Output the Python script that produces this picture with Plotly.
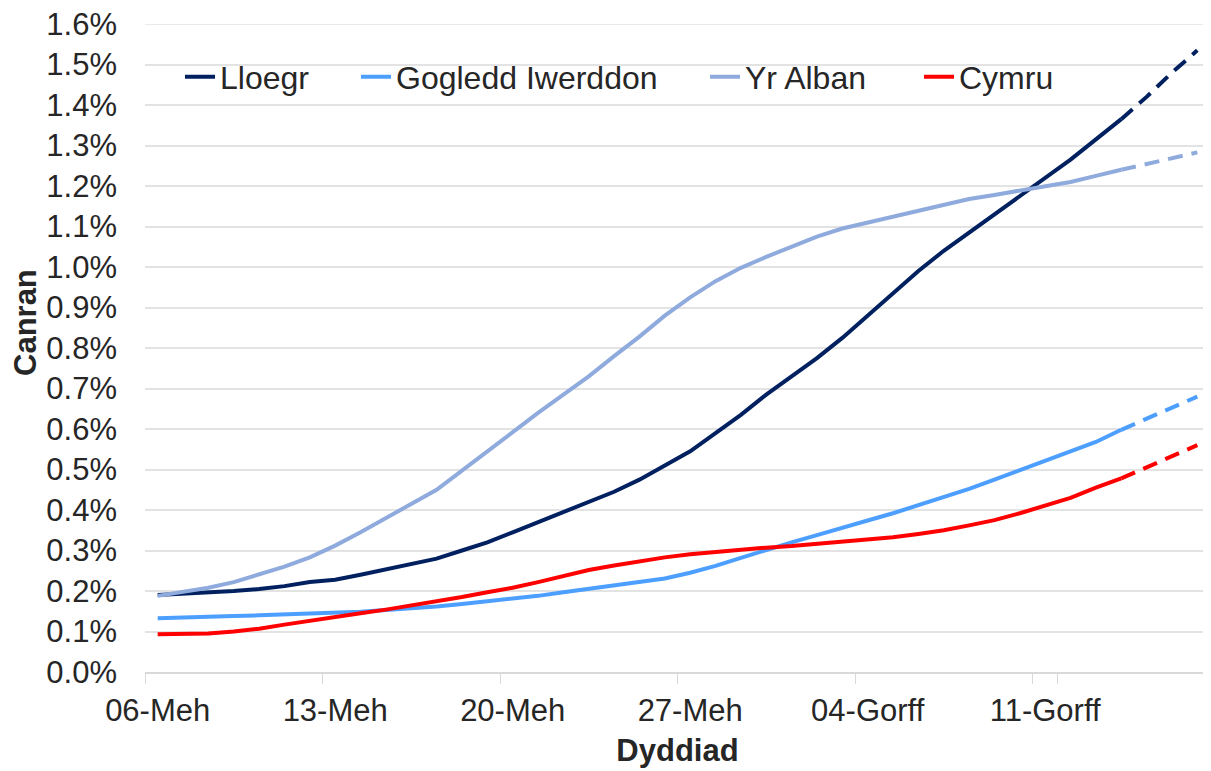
import plotly.graph_objects as go

# Categories (daily, 06 June -> 17 July), Welsh month abbreviations
dates = [f"{d:02d}-Meh" for d in range(6, 31)] + [f"{d:02d}-Gorff" for d in range(1, 18)]
tick_labels = ["06-Meh", "13-Meh", "20-Meh", "27-Meh", "04-Gorff", "11-Gorff"]
y_ticks = [0.0, 0.1, 0.2, 0.3, 0.4, 0.5, 0.6, 0.7, 0.8, 0.9, 1.0, 1.1, 1.2, 1.3, 1.4, 1.5, 1.6]

# Percentages (values in %), last 4 points (from index 38) are projections (dashed)
lloegr = [0.190, 0.193, 0.196, 0.200, 0.205, 0.212, 0.222, 0.228, 0.240, 0.253,
          0.265, 0.280, 0.300, 0.320, 0.345, 0.370, 0.395, 0.420, 0.445, 0.475,
          0.510, 0.545, 0.590, 0.635, 0.685, 0.730, 0.775, 0.825, 0.880, 0.935,
          0.990, 1.040, 1.085, 1.130, 1.175, 1.220, 1.265, 1.315, 1.365, 1.420,
          1.480, 1.535]
gogledd_iwerddon = [0.133, 0.134, 0.136, 0.138, 0.140, 0.142, 0.144, 0.146, 0.149, 0.153,
                    0.157, 0.162, 0.168, 0.174, 0.180, 0.188, 0.197, 0.205, 0.213, 0.222,
                    0.231, 0.245, 0.262, 0.282, 0.302, 0.320, 0.338, 0.355, 0.374, 0.392,
                    0.412, 0.432, 0.452, 0.475, 0.498, 0.522, 0.545, 0.568, 0.598, 0.625,
                    0.652, 0.680]
yr_alban = [0.188, 0.197, 0.208, 0.222, 0.240, 0.260, 0.283, 0.312, 0.345, 0.380,
            0.415, 0.450, 0.497, 0.545, 0.595, 0.640, 0.685, 0.730, 0.780, 0.828,
            0.880, 0.925, 0.965, 0.998, 1.025, 1.050, 1.075, 1.095, 1.110, 1.125,
            1.140, 1.155, 1.168, 1.178, 1.188, 1.198, 1.210, 1.225, 1.240, 1.255,
            1.270, 1.283]
cymru = [0.093, 0.094, 0.095, 0.100, 0.107, 0.117, 0.127, 0.135, 0.145, 0.154,
         0.164, 0.174, 0.185, 0.197, 0.208, 0.222, 0.238, 0.252, 0.263, 0.274,
         0.283, 0.291, 0.297, 0.302, 0.307, 0.311, 0.316, 0.321, 0.327, 0.333,
         0.341, 0.350, 0.362, 0.375, 0.392, 0.410, 0.430, 0.455, 0.478, 0.505,
         0.532, 0.560]

last_observed = 38  # index where projection begins

series = [
    ("Lloegr", lloegr, "#002060", "legend"),
    ("Gogledd Iwerddon", gogledd_iwerddon, "#4D9FFF", "legend2"),
    ("Yr Alban", yr_alban, "#8FAADC", "legend3"),
    ("Cymru", cymru, "#FF0000", "legend4"),
]

FONT = "Arial, Liberation Sans, sans-serif"
TXT = "#262626"

fig = go.Figure()
for name, vals, color, leg in series:
    fig.add_trace(go.Scatter(
        x=dates[:last_observed + 1], y=vals[:last_observed + 1], mode="lines",
        name=name, line=dict(color=color, width=4), legend=leg,
        hovertemplate="%{x}: %{y:.2f}%<extra>" + name + "</extra>"))
    fig.add_trace(go.Scatter(
        x=dates[last_observed:], y=vals[last_observed:], mode="lines",
        name=name, showlegend=False, line=dict(color=color, width=4, dash="15px,9px"),
        hovertemplate="%{x}: %{y:.2f}%<extra>" + name + "</extra>"))

# The page body has an 8px default margin, so the figure is slightly smaller
OFF = 8
W, H = 1211 - OFF, 771 - OFF
PL, PR, PT, PB = 145, 1210, 24, 672   # plot area in page pixels
L, T = PL - OFF, PT - OFF
R, B = W - (PR - OFF), H - (PB - OFF)
pw, ph = PR - PL, PB - PT

def px_x(x):
    return (x - PL) / pw

def px_y(y):
    return 1 - (y - PT) / ph

text_starts = [222, 398, 747, 961]
leg_common = dict(orientation="h", xanchor="left", yanchor="middle",
                  bgcolor="rgba(0,0,0,0)", font=dict(family=FONT, size=32, color=TXT),
                  itemclick=False, itemdoubleclick=False)
layout_legends = {}
for key, ts in zip(["legend", "legend2", "legend3", "legend4"], text_starts):
    layout_legends[key] = dict(x=px_x(ts - 42), y=px_y(77), **leg_common)

fig.update_layout(
    width=W, height=H,
    margin=dict(l=L, r=R, t=T, b=B, autoexpand=False),
    paper_bgcolor="white", plot_bgcolor="white",
    font=dict(family=FONT, size=31, color=TXT),
    xaxis=dict(
        type="category", categoryorder="array", categoryarray=dates,
        range=[-0.5, len(dates) - 0.5], automargin=False,
        tickmode="array", tickvals=tick_labels, ticktext=tick_labels, tickangle=0,
        tickson="boundaries", ticks="outside", ticklen=10, tickcolor="#D9D9D9",
        showline=True, linecolor="#D9D9D9", linewidth=1.5,
        showgrid=False, ticklabelstandoff=10,
        tickfont=dict(family=FONT, size=31, color=TXT),
        title=dict(text="<b>Dyddiad</b>", font=dict(family=FONT, size=31, color=TXT), standoff=12),
    ),
    yaxis=dict(
        range=[0, 1.6], tickmode="array", tickvals=y_ticks,
        ticktext=[f"{v:.1f}%" for v in y_ticks], ticklabeloverflow="allow",
        showgrid=True, gridcolor="#E3E3E3", gridwidth=1.5, zeroline=False, automargin=False,
        showline=False, ticks="", ticklabelstandoff=27,
        tickfont=dict(family=FONT, size=31, color=TXT),
    ),
    shapes=[dict(type="line", xref="paper", yref="y", x0=0, x1=1, y0=1.6, y1=1.6,
                 line=dict(color="#E3E3E3", width=1.5), layer="below")],
    annotations=[dict(
        text="<b>Canran</b>", textangle=-90, xref="paper", yref="paper",
        x=px_x(26), y=px_y(323), xanchor="center", yanchor="middle", showarrow=False,
        font=dict(family=FONT, size=31, color=TXT))],
    showlegend=True,
    **layout_legends,
)

fig.write_html("out.html")
